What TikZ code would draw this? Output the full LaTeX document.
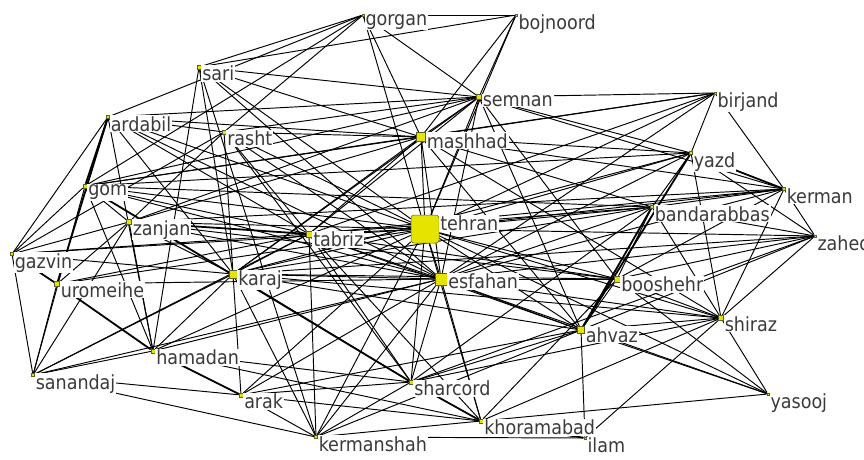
\documentclass[tikz,border=0pt]{standalone}
\usepackage{fontspec}
\setmainfont{DejaVu Sans Condensed}
\usepackage{xcolor}
\usepackage{tikz}
\usetikzlibrary{backgrounds}
\definecolor{cityfill}{RGB}{228,228,0}
\definecolor{citybd}{RGB}{95,95,40}
\definecolor{txtgray}{RGB}{58,58,58}

\begin{document}
\begin{tikzpicture}[
    x=1pt,y=-1pt,
    city/.style={rectangle,draw=citybd,fill=cityfill,line width=0.5pt,
                 inner sep=0pt,minimum size=#1},
    lbl/.style={anchor=north west,fill=white,inner sep=0.8pt,text=txtgray,
                font=\fontsize{19.5}{20}\selectfont},
    link/.style={black,line width=0.95pt},
    heavy/.style={black,line width=1.8pt},
]
\clip (0,0) rectangle (864,459);

% cities
\node[city=2.5pt] (gorgan) at (363,15) {};
\node[city=2.5pt] (bojnoord) at (516,15) {};
\node[city=4pt] (sari) at (199,67) {};
\node[city=5pt] (semnan) at (479,97) {};
\node[city=2.5pt] (birjand) at (715,93) {};
\node[city=3pt] (ardabil) at (108,117) {};
\node[city=4pt] (rasht) at (224,132) {};
\node[city=9pt] (mashhad) at (421,137) {};
\node[city=3pt] (yazd) at (691,153) {};
\node[city=4pt] (gom) at (85,186) {};
\node[city=3pt] (kerman) at (784,189) {};
\node[city=3pt] (bandarabbas) at (652,207) {};
\node[city=5pt] (zanjan) at (129,222) {};
\node[city=28pt,rounded corners=3pt] (tehran) at (425,229) {};
\node[city=6pt] (tabriz) at (309,234) {};
\node[city=2.5pt] (zahedan) at (815,236) {};
\node[city=3pt] (gazvin) at (12,254) {};
\node[city=8pt] (karaj) at (233,274) {};
\node[city=12pt] (esfahan) at (441,279) {};
\node[city=6pt] (booshehr) at (617,279) {};
\node[city=5pt] (uromeihe) at (57,284) {};
\node[city=5pt] (shiraz) at (721,318) {};
\node[city=7pt] (ahvaz) at (581,330) {};
\node[city=4pt] (hamadan) at (153,351) {};
\node[city=3pt] (sanandaj) at (33,375) {};
\node[city=4pt] (sharcord) at (411,382) {};
\node[city=4pt] (arak) at (241,395) {};
\node[city=2.5pt] (yasooj) at (768,394) {};
\node[city=4pt] (khoramabad) at (481,421) {};
\node[city=3pt] (kermanshah) at (316,437) {};
\node[city=2.5pt] (ilam) at (585,438) {};

% names
\foreach \c in {gorgan,bojnoord,sari,semnan,birjand,ardabil,rasht,mashhad,
  yazd,gom,kerman,bandarabbas,zanjan,tehran,tabriz,zahedan,gazvin,karaj,
  esfahan,booshehr,uromeihe,shiraz,ahvaz,hamadan,sanandaj,sharcord,arak,
  yasooj,khoramabad,kermanshah,ilam}
  \node[lbl] (\c-name) at (\c.north east) {\c};

% links
\begin{scope}[on background layer]
\fill[white] (0,0) rectangle (864,459);
\foreach \a/\b in {gorgan/bojnoord,gorgan/sari,gorgan/semnan,gorgan/mashhad,
  gorgan/tehran,gorgan/ardabil,gorgan/rasht,gorgan/gom,bojnoord/sari,
  bojnoord/semnan,bojnoord/mashhad,bojnoord/tehran,sari/semnan,sari/mashhad,
  sari/tehran,sari/esfahan,sari/karaj,sari/hamadan,sari/kermanshah,
  semnan/ardabil,semnan/rasht,semnan/gom,semnan/zanjan,semnan/tabriz,
  semnan/karaj,semnan/mashhad,semnan/tehran,semnan/birjand,semnan/yazd,
  semnan/esfahan,semnan/booshehr,semnan/ahvaz,semnan/kerman,
  ardabil/gazvin,ardabil/hamadan,ardabil/karaj,ardabil/tabriz,
  ardabil/tehran,ardabil/mashhad,ardabil/rasht,ardabil/esfahan,
  rasht/zanjan,rasht/gazvin,rasht/karaj,rasht/tabriz,rasht/esfahan,
  rasht/tehran,rasht/mashhad,rasht/sharcord,mashhad/tehran,mashhad/esfahan,
  mashhad/gom,mashhad/zanjan,mashhad/karaj,mashhad/tabriz,mashhad/yazd,
  mashhad/shiraz,mashhad/bandarabbas,mashhad/kerman,mashhad/ahvaz,
  mashhad/birjand,birjand/gom,birjand/tabriz,birjand/tehran,birjand/esfahan,
  birjand/yazd,birjand/kerman,yazd/karaj,yazd/esfahan,yazd/tehran,
  yazd/shiraz,yazd/zahedan,yazd/bandarabbas,yazd/gom,kerman/zahedan,
  kerman/bandarabbas,kerman/shiraz,kerman/tehran,kerman/esfahan,
  kerman/booshehr,kerman/zanjan,kerman/tabriz,zahedan/bandarabbas,
  zahedan/shiraz,zahedan/booshehr,zahedan/ahvaz,zahedan/esfahan,
  zahedan/tehran,zahedan/karaj,zahedan/sharcord,bandarabbas/booshehr,
  bandarabbas/shiraz,bandarabbas/tehran,bandarabbas/esfahan,
  bandarabbas/tabriz,bandarabbas/karaj,bandarabbas/gom,bandarabbas/sharcord,
  booshehr/ahvaz,booshehr/shiraz,booshehr/yasooj,booshehr/tehran,
  booshehr/esfahan,booshehr/karaj,booshehr/tabriz,booshehr/khoramabad,
  booshehr/zanjan,ahvaz/ilam,ahvaz/shiraz,ahvaz/yasooj,ahvaz/esfahan,
  ahvaz/tehran,ahvaz/sharcord,ahvaz/kermanshah,ahvaz/arak,ahvaz/karaj,
  ahvaz/tabriz,shiraz/yasooj,shiraz/ilam,shiraz/esfahan,shiraz/tehran,
  shiraz/sharcord,shiraz/khoramabad,shiraz/karaj,yasooj/esfahan,
  yasooj/khoramabad,yasooj/tehran,gom/gazvin,gom/zanjan,gom/sanandaj,
  gom/hamadan,gom/tabriz,gom/tehran,gom/esfahan,zanjan/uromeihe,
  zanjan/sanandaj,zanjan/gazvin,zanjan/hamadan,zanjan/karaj,zanjan/tehran,
  zanjan/esfahan,gazvin/sanandaj,gazvin/karaj,gazvin/tehran,gazvin/tabriz,
  uromeihe/sanandaj,uromeihe/tabriz,uromeihe/tehran,uromeihe/esfahan,
  sanandaj/hamadan,sanandaj/karaj,sanandaj/esfahan,sanandaj/tabriz,
  sanandaj/arak,sanandaj/kermanshah,hamadan/karaj,hamadan/esfahan,
  hamadan/tehran,hamadan/khoramabad,hamadan/sharcord,arak/karaj,arak/tehran,
  arak/esfahan,arak/sharcord,arak/khoramabad,arak/kermanshah,
  kermanshah/karaj,kermanshah/tabriz,kermanshah/esfahan,kermanshah/tehran,
  kermanshah/sharcord,kermanshah/khoramabad,kermanshah/ilam,sharcord/tabriz,
  sharcord/tehran,sharcord/esfahan,sharcord/karaj,khoramabad/esfahan,
  khoramabad/tehran,khoramabad/tabriz,karaj/tabriz,karaj/tehran,
  karaj/esfahan,tabriz/tehran,tabriz/esfahan,tehran/esfahan}
  \draw[link] (\a) -- (\b);
% doubled links
\foreach \a/\b in {yazd/kerman,yazd/ahvaz,bandarabbas/ahvaz,uromeihe/hamadan,
  hamadan/arak,gazvin/uromeihe,gom/sharcord,sharcord/khoramabad,
  khoramabad/ilam,zanjan/tabriz,ardabil/gom,ardabil/uromeihe}
  \draw[heavy] (\a) -- (\b);
\end{scope}

\end{tikzpicture}
\end{document}
